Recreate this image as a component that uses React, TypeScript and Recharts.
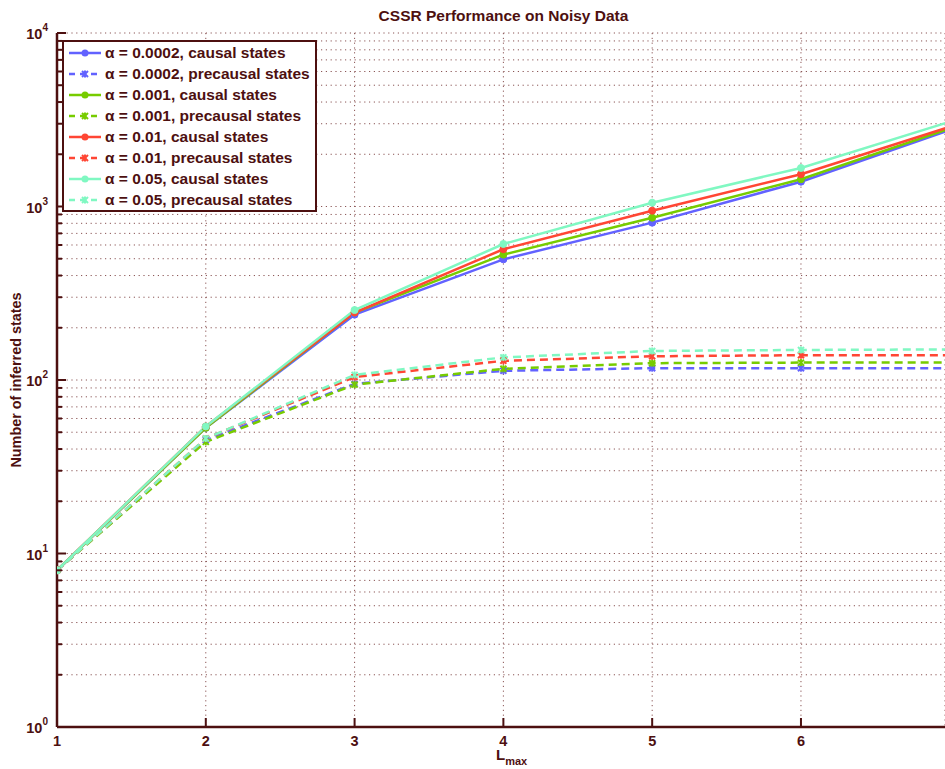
import React from "react";
import { CartesianGrid, Legend, Line, LineChart, XAxis, YAxis } from "recharts";

if (typeof document !== "undefined") document.body.style.margin = "0";

const lmax = [1, 2, 3, 4, 5, 6, 7];

// causal states
const causal0002 = [8, 53, 238, 496, 807, 1390, 2757];
const causal001 = [8, 53, 245, 528, 862, 1436, 2818];
const causal01 = [8, 54, 245, 567, 946, 1535, 2876];
const causal05 = [8, 54, 253, 608, 1052, 1667, 3076];

// precausal states
const pre0002 = [8, 45, 95, 113, 117, 117, 117];
const pre001 = [8, 44, 94, 116, 125, 126, 126];
const pre01 = [8, 46, 104, 129, 137, 139, 139];
const pre05 = [8, 46, 107, 135, 147, 149, 150];

const xTicks = [1, 2, 3, 4, 5, 6];
const yDecades = [1, 10, 100, 1000, 10000];
const yMinor = [2, 3, 4, 5, 6, 7, 8, 9];

const yTicks: number[] = [];
yDecades.forEach((d, i) => {
  yTicks.push(d);
  if (i < yDecades.length - 1) yMinor.forEach((m) => yTicks.push(d * m));
});

const INK = "#4d1010";
const FONT = "'Liberation Sans', Arial, Helvetica, sans-serif";

const W = 945;
const H = 769;
const PLOT_LEFT = 57;
const PLOT_TOP = 33;
const PLOT_BOTTOM = 727;

const series = [
  { key: "c0002", name: "α = 0.0002, causal states", values: causal0002, color: "#6262ff", dashed: false },
  { key: "p0002", name: "α = 0.0002, precausal states", values: pre0002, color: "#6262ff", dashed: true },
  { key: "c001", name: "α = 0.001, causal states", values: causal001, color: "#77cc00", dashed: false },
  { key: "p001", name: "α = 0.001, precausal states", values: pre001, color: "#77cc00", dashed: true },
  { key: "c01", name: "α = 0.01, causal states", values: causal01, color: "#ff4634", dashed: false },
  { key: "p01", name: "α = 0.01, precausal states", values: pre01, color: "#ff4634", dashed: true },
  { key: "c05", name: "α = 0.05, causal states", values: causal05, color: "#80f8c2", dashed: false },
  { key: "p05", name: "α = 0.05, precausal states", values: pre05, color: "#80f8c2", dashed: true },
];

const data = lmax.map((l, i) => {
  const row: Record<string, number> = { lmax: l };
  series.forEach((s) => (row[s.key] = s.values[i]));
  return row;
});

const CrossDot = (props: any) => {
  const { cx, cy, stroke } = props;
  if (cx == null || cy == null) return null;
  const r = 3;
  return (
    <g stroke={stroke} strokeWidth={2}>
      <line x1={cx - r} y1={cy - r} x2={cx + r} y2={cy + r} />
      <line x1={cx - r} y1={cy + r} x2={cx + r} y2={cy - r} />
      <line x1={cx} y1={cy - r - 0.5} x2={cx} y2={cy + r + 0.5} />
    </g>
  );
};

const YTick = (props: any) => {
  const { y, payload } = props;
  const v = payload.value;
  const exp = Math.round(Math.log10(v));
  const major = Math.abs(Math.pow(10, exp) - v) < 1e-6;
  return (
    <g>
      <line x1={PLOT_LEFT} x2={PLOT_LEFT + (major ? 9 : 5)} y1={y} y2={y} stroke={INK} strokeWidth={2} />
      {major && (
        <text x={PLOT_LEFT - 9} y={y + 6} textAnchor="end" fill={INK} fontFamily={FONT} fontWeight="bold" fontSize={14.5}>
          10
          <tspan dy={-8} fontSize={10}>{exp}</tspan>
        </text>
      )}
    </g>
  );
};

const XTick = (props: any) => {
  const { x, payload } = props;
  return (
    <g>
      <line x1={x} x2={x} y1={PLOT_BOTTOM} y2={PLOT_BOTTOM - 9} stroke={INK} strokeWidth={2} />
      <text x={x} y={PLOT_BOTTOM + 19} textAnchor="middle" fill={INK} fontFamily={FONT} fontWeight="bold" fontSize={14.5}>
        {payload.value}
      </text>
    </g>
  );
};

const XLabel = (props: any) => {
  const { viewBox } = props;
  const cx = viewBox.x + viewBox.width / 2;
  return (
    <text x={cx - 5} y={PLOT_BOTTOM + 33} fill={INK} fontFamily={FONT} fontWeight="bold" fontSize={15}>
      L
      <tspan dy={5} fontSize={11}>max</tspan>
    </text>
  );
};

const YLabel = () => {
  const cx = 16;
  const cy = (PLOT_TOP + PLOT_BOTTOM) / 2;
  return (
    <text
      x={cx}
      y={cy}
      transform={`rotate(-90 ${cx} ${cy})`}
      textAnchor="middle"
      dominantBaseline="central"
      fill={INK}
      fontFamily={FONT}
      fontWeight="bold"
      fontSize={14.4}
    >
      Number of inferred states
    </text>
  );
};

const LegendBox = () => (
  <div
    style={{
      border: `2px solid ${INK}`,
      background: "#fff",
      padding: "0 4px 0 1px",
      fontFamily: FONT,
      fontWeight: "bold",
      fontSize: 15.5,
      color: INK,
      width: 246,
    }}
  >
    {series.map((s) => (
      <div key={s.key} style={{ display: "flex", alignItems: "center", height: 21 }}>
        <svg width={38} height={12} style={{ marginRight: 2 }}>
          <line
            x1={4}
            x2={36}
            y1={6}
            y2={6}
            stroke={s.color}
            strokeWidth={2.5}
            strokeDasharray={s.dashed ? "6 5" : undefined}
          />
          {s.dashed ? (
            <CrossDot cx={20} cy={6} stroke={s.color} />
          ) : (
            <circle cx={20} cy={6} r={3.5} fill={s.color} />
          )}
        </svg>
        <span style={{ whiteSpace: "nowrap" }}>{s.name}</span>
      </div>
    ))}
  </div>
);

export default function App() {
  return (
    <div style={{ position: "relative", width: W, height: H }}>
      <div
        style={{
          position: "absolute",
          left: 0,
          top: 7,
          width: PLOT_LEFT * 2 + 893,
          textAlign: "center",
          fontFamily: FONT,
          fontWeight: "bold",
          fontSize: 15.5,
          color: INK,
          zIndex: 2,
        }}
      >
        CSSR Performance on Noisy Data
      </div>
      <LineChart width={W} height={H} data={data} margin={{ top: PLOT_TOP, right: 0, left: 0, bottom: 0 }}>
        <CartesianGrid stroke="#8a5555" strokeDasharray="1.2 3.6" strokeWidth={1} />
        <XAxis
          dataKey="lmax"
          type="number"
          domain={[1, 6.968]}
          allowDataOverflow
          ticks={xTicks}
          tick={<XTick />}
          tickLine={false}
          axisLine={{ stroke: INK, strokeWidth: 2.5 }}
          height={H - PLOT_BOTTOM}
          label={<XLabel />}
        />
        <YAxis
          scale="log"
          domain={[1, 10000]}
          allowDataOverflow
          ticks={yTicks}
          interval={0}
          tick={<YTick />}
          tickLine={false}
          axisLine={{ stroke: INK, strokeWidth: 2.5 }}
          width={PLOT_LEFT}
          label={<YLabel />}
        />
        <Legend
          layout="horizontal"
          verticalAlign="middle"
          align="center"
          content={<LegendBox />}
          wrapperStyle={{ left: 62, top: 40, width: "auto", height: "auto" }}
        />
        {series.map((s) => (
          <Line
            key={s.key}
            dataKey={s.key}
            name={s.name}
            stroke={s.color}
            strokeWidth={2.5}
            strokeDasharray={s.dashed ? "8 5" : undefined}
            dot={s.dashed ? <CrossDot /> : { r: 3.5, fill: s.color, stroke: s.color, strokeWidth: 1 }}
            activeDot={false}
            isAnimationActive={false}
          />
        ))}
      </LineChart>
    </div>
  );
}
